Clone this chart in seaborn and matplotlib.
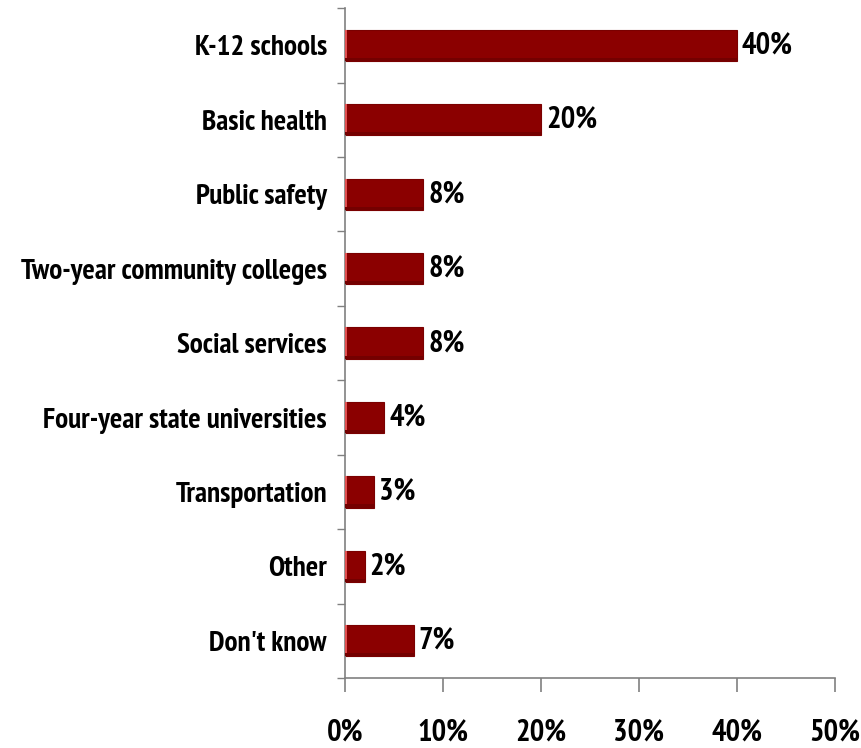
import numpy as np
import pandas as pd
import matplotlib
matplotlib.use("Agg")
import matplotlib.pyplot as plt
import seaborn as sns
from matplotlib.ticker import FixedLocator

categories = ["K-12 schools", "Basic health", "Public safety",
              "Two-year community colleges", "Social services",
              "Four-year state universities", "Transportation", "Other",
              "Don't know"]
values = [40, 20, 8, 8, 8, 4, 3, 2, 7]
xticks = [0, 10, 20, 30, 40, 50]

df = pd.DataFrame({"category": categories, "value": values})

sns.set_theme(style="white")
plt.rcParams['font.family'] = ['PT Sans Narrow', 'Roboto Condensed', 'DejaVu Sans']
plt.rcParams['text.color'] = 'black'

fig = plt.figure(figsize=(8.61, 7.48), dpi=100)
ax = fig.add_axes([0.4007, 0.0936, 0.5691, 0.8954])

sns.barplot(data=df, x="value", y="category", orient="h", color="#8B0000",
            width=0.42, edgecolor="#7a0000", linewidth=0.8, saturation=1, ax=ax)

# lighter left edge and a faint darker bottom strip, a hint of the 3D look of the original
for p in ax.patches:
    x0, y0 = p.get_x(), p.get_y()
    w, h = p.get_width(), p.get_height()
    ax.add_patch(plt.Rectangle((x0, y0), 0.25, h, color="#e05050", lw=0, zorder=3))
    ax.add_patch(plt.Rectangle((x0, y0 + h * 0.9), w, h * 0.1, color="#740000", lw=0, zorder=3))
    ax.text(w + 0.5, y0 + h / 2, f"{int(w)}%",
            va="center", ha="left", fontsize=22, fontweight="bold", color="black")

ax.set_xlim(0, 50)
ax.set_ylim(len(categories) - 0.5, -0.5)
ax.set_xticks(xticks)
ax.set_xticklabels([f"{t}%" for t in xticks])
ax.set_xlabel("")
ax.set_ylabel("")

ax.yaxis.set_minor_locator(FixedLocator(np.arange(-0.5, len(categories), 1)))
ax.tick_params(axis="y", which="major", length=0, pad=13, labelsize=21, labelcolor="black")
ax.tick_params(axis="y", which="minor", left=True, length=6, width=1, color="#808080")
ax.tick_params(axis="x", which="major", bottom=True, length=10, width=1.2, color="#808080",
               pad=19, labelsize=22, labelcolor="black")
for lab in ax.get_yticklabels() + ax.get_xticklabels():
    lab.set_fontweight("bold")

sns.despine(ax=ax, top=True, right=True)
ax.spines["left"].set_color("#808080")
ax.spines["bottom"].set_color("#808080")
ax.spines["left"].set_linewidth(1.2)
ax.spines["bottom"].set_linewidth(1.2)

plt.savefig("out.png", dpi=100)
